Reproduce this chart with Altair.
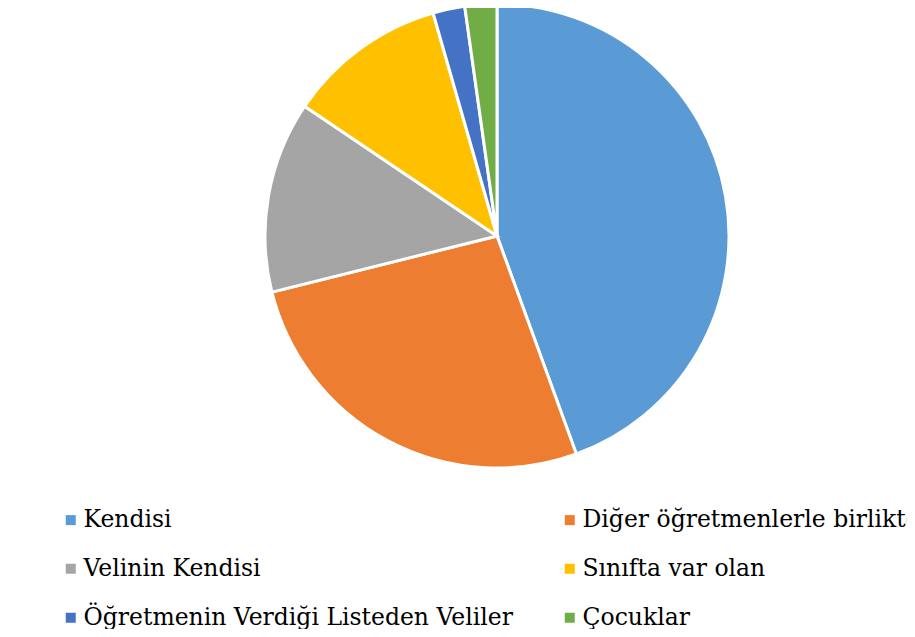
import altair as alt
import pandas as pd

categories = ["Kendisi", "Diğer öğretmenlerle birlikte", "Velinin Kendisi",
              "Sınıfta var olan", "Öğretmenin Verdiği Listeden Veliler", "Çocuklar"]
values = [40, 24, 12, 10, 2, 2]
colors = ["#5B9BD5", "#ED7D31", "#A5A5A5", "#FFC000", "#4472C4", "#70AD47"]

df = pd.DataFrame({"cat": categories, "val": values, "idx": list(range(len(values)))})

serif = "DejaVu Serif"

chart = alt.Chart(df).mark_arc(outerRadius=232, stroke="white", strokeWidth=3).encode(
    theta=alt.Theta("val:Q", stack=True),
    order=alt.Order("idx:Q"),
    color=alt.Color(
        "cat:N",
        scale=alt.Scale(domain=categories, range=colors),
        sort=categories,
        legend=alt.Legend(
            title=None, orient="none", legendX=51, legendY=500, columns=2,
            direction="horizontal",
            columnPadding=45, rowPadding=24, symbolType="square", symbolSize=100,
            symbolStrokeWidth=0, labelFont=serif, labelFontSize=23.5,
            labelColor="black", labelOffset=1, labelLimit=600,
        ),
    ),
    x=alt.value(489), y=alt.value(228),
).properties(
    width=899, height=621, padding=0,
    autosize=alt.AutoSizeParams(type="none"),
).configure(font=serif).configure_view(stroke=None).configure_legend(labelFont=serif, labelFontSize=23.5)

chart.save("out.html", embed_options={"renderer": "svg", "actions": False})
